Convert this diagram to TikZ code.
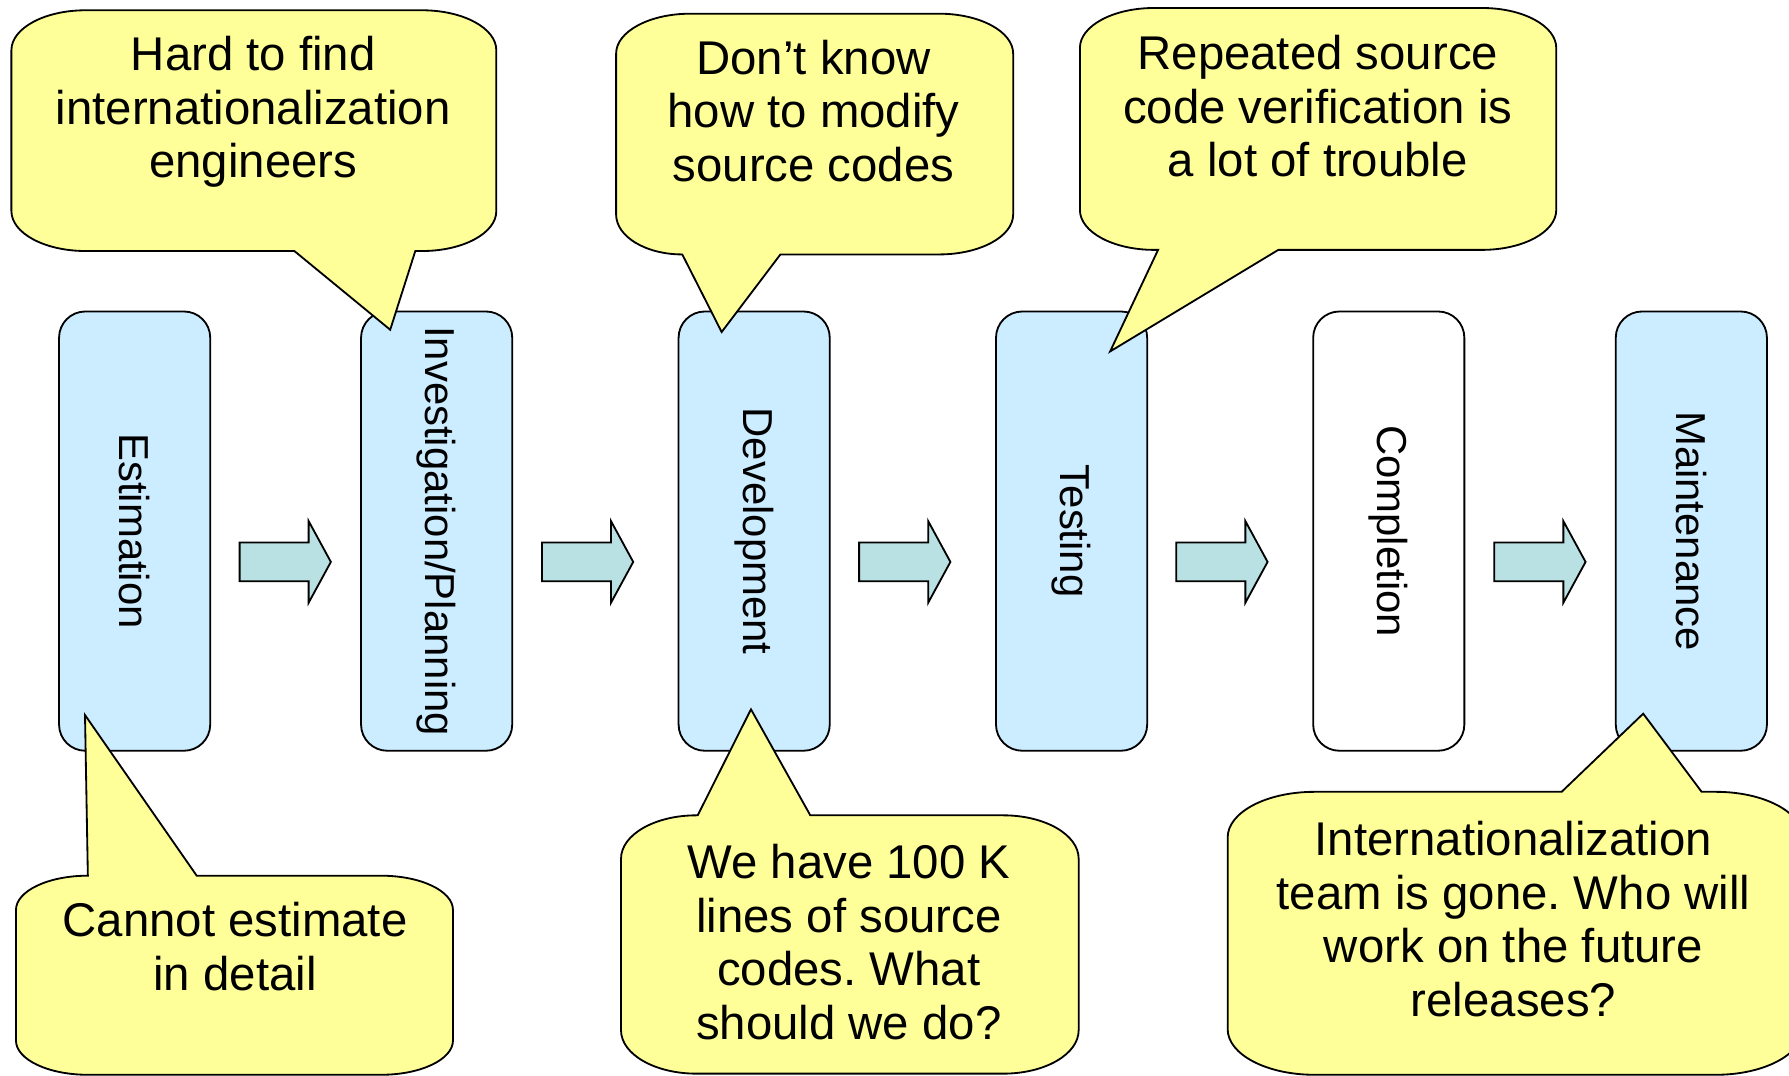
\documentclass[tikz,border=0pt]{standalone}
\usepackage{fontspec}
\setmainfont{Liberation Sans}
\usepackage{graphicx}
\frenchspacing
\definecolor{procblue}{RGB}{204,236,255}
\definecolor{noteyellow}{RGB}{255,255,153}
\definecolor{flowteal}{RGB}{185,224,226}
\begin{document}
\begin{tikzpicture}[x=1pt,y=1pt,yscale=-1,
  proc/.style={draw=black, line width=1.6pt, rounded corners=23pt, fill=procblue,
    minimum width=132.5pt, minimum height=385pt, inner sep=0pt,
    font=\fontsize{36.7}{44}\selectfont},
  note/.style={draw=black, line width=1.6pt, fill=noteyellow, line join=miter},
  notetext/.style={align=center, inner sep=0pt, anchor=base,
    font=\fontsize{41.5}{47}\selectfont\frenchspacing},
  flow/.style={draw=black, line width=1.6pt, fill=flowteal},
  cA/.style={x radius=65, y radius=35},
  cB/.style={x radius=63, y radius=30},
  cC/.style={x radius=66, y radius=38},
  cD/.style={x radius=76, y radius=40},
  flowarrow/.pic={\path[flow] (0,-17) -- (60.5,-17) -- (60.5,-35.8) -- (80,0)
    -- (60.5,35.8) -- (60.5,17) -- (0,17) -- cycle;}
]
\useasboundingbox (0,0) rectangle (1568,943);
\clip (0,0) rectangle (1568,943);

% process boxes
\node[proc] (est) at (118,465.5) {\rotatebox{-90}{Estimation}};
\node[proc] (inv) at (382.7,465.5) {\rotatebox{-90}{Investigation/Planning}};
\node[proc] (dev) at (661,465.5) {\rotatebox{-90}{Development}};
\node[proc] (tst) at (939.2,465.5) {\rotatebox{-90}{Testing}};
\node[proc, fill=white] (cmp) at (1217.2,465.5) {\rotatebox{-90}{Completion}};
\node[proc] (mnt) at (1482.4,465.5) {\rotatebox{-90}{Maintenance}};

% block arrows
\pic (a1) at (210,492.5) {flowarrow};
\pic (a2) at (475,492.5) {flowarrow};
\pic (a3) at (753,492.5) {flowarrow};
\pic (a4) at (1031,492.5) {flowarrow};
\pic (a5) at (1309.7,492.5) {flowarrow};

% callout 1
\path[note] (75,9) -- (370,9) arc[cA, start angle=270, end angle=360]
  -- (435,185) arc[cA, start angle=0, end angle=90]
  -- (364,220) -- (342,289) -- (258,220)
  -- (75,220) arc[cA, start angle=90, end angle=180]
  -- (10,44) arc[cA, start angle=180, end angle=270] -- cycle;
\node[notetext] (t1) at (222,156) {Hard to find\\internationalization\\engineers};

% callout 2
\path[note] (605,12) -- (823,12) arc[cA, start angle=270, end angle=360]
  -- (888,188) arc[cA, start angle=0, end angle=90]
  -- (684,223) -- (632.5,291) -- (598,223)
  arc[start angle=90, end angle=180, x radius=58, y radius=35]
  -- (540,47) arc[cA, start angle=180, end angle=270] -- cycle;
\node[notetext] (t2) at (713,159) {Don’t know\\how to modify\\source codes};

% callout 3
\path[note] (1011.5,7) -- (1299,7) arc[cA, start angle=270, end angle=360]
  -- (1364,184) arc[cA, start angle=0, end angle=90]
  -- (1120.4,219) -- (973,308) -- (1015,219)
  -- (1011.5,219) arc[cA, start angle=90, end angle=180]
  -- (946.5,42) arc[cA, start angle=180, end angle=270] -- cycle;
\node[notetext] (t3) at (1155,155) {Repeated source\\code verification is\\a lot of trouble};

% callout 4
\path[note] (77,767.5) -- (74.5,626.7) -- (172.4,767.5)
  -- (334,767.5) arc[cB, start angle=270, end angle=360]
  -- (397,912) arc[cB, start angle=0, end angle=90]
  -- (77,942) arc[cB, start angle=90, end angle=180]
  -- (14,797.5) arc[cB, start angle=180, end angle=270] -- cycle;
\node[notetext] (t4) at (206,868) {Cannot estimate\\in detail};

% callout 5
\path[note] (611.5,714.6) -- (658.2,621.7) -- (710.2,714.6)
  -- (879.4,714.6) arc[cC, start angle=270, end angle=360]
  -- (945.4,903) arc[cC, start angle=0, end angle=90]
  -- (610.3,941) arc[cC, start angle=90, end angle=180]
  -- (544.3,752.6) arc[cC, start angle=180, end angle=270] -- cycle;
\node[notetext] (t5) at (744,911) {We have 100 K\\lines of source\\codes. What\\should we do?};

% callout 6
\path[note] (1152,694) -- (1368.7,694) -- (1440.2,625.5) -- (1491.4,694)
  -- (1504,694) arc[cD, start angle=270, end angle=360]
  -- (1580,902) arc[cD, start angle=0, end angle=90]
  -- (1152,942) arc[cD, start angle=90, end angle=180]
  -- (1076,734) arc[cD, start angle=180, end angle=270] -- cycle;
\node[notetext] (t6) at (1326.5,891) {Internationalization\\team is gone. Who will\\work on the future\\releases?};
\end{tikzpicture}
\end{document}
